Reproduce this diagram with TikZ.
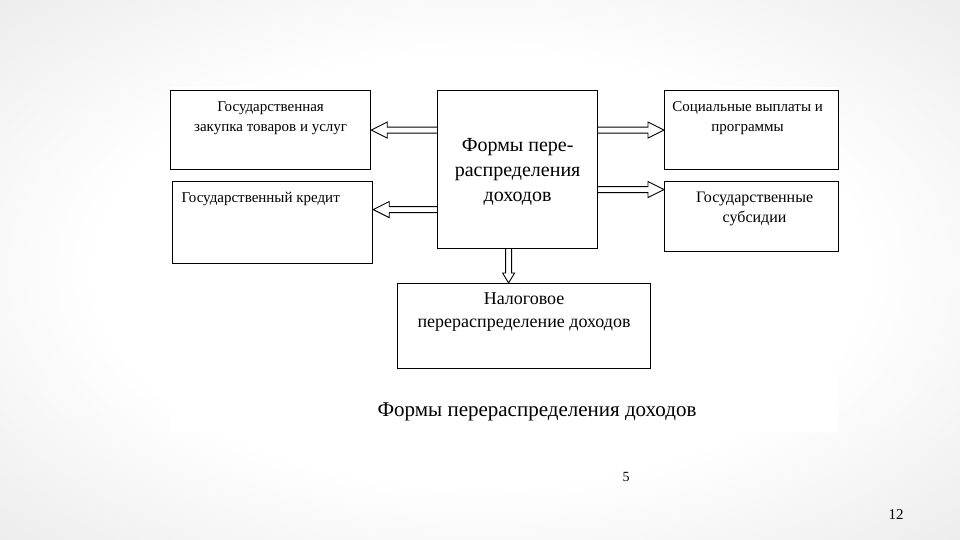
\documentclass[tikz,border=0pt]{standalone}
\usepackage{fontspec}
\setmainfont{Liberation Serif}
\usetikzlibrary{calc}
\newcommand{\lw}{1.2pt}
\newcommand{\shw}{3pt}
\pgfdeclareradialshading{slidebg}{\pgfpoint{0bp}{0bp}}{color(0bp)=(white); color(20bp)=(white); color(50bp)=(black!14); color(72bp)=(black!22)}

\begin{document}
\begin{tikzpicture}[x=1pt, y=-1pt,
    box/.style={draw, line width=\lw, rectangle, anchor=north west, inner sep=0pt},
    txt/.style={anchor=north, align=center, font=\fontsize{15}{20}\selectfont},
    blk/.style 2 args={line width=0.9pt, line join=miter, to path={
        ($(\tikztostart)!\shw!-90:(\tikztotarget)$)
        -- ($(\tikztotarget)!#2!(\tikztostart)!\shw!90:(\tikztostart)$)
        -- ($(\tikztotarget)!#2!(\tikztostart)!#1!90:(\tikztostart)$)
        -- (\tikztotarget)
        -- ($(\tikztotarget)!#2!(\tikztostart)!#1!-90:(\tikztostart)$)
        -- ($(\tikztotarget)!#2!(\tikztostart)!\shw!-90:(\tikztostart)$)
        -- ($(\tikztostart)!\shw!90:(\tikztotarget)$)}}]
    % Slide and picture area
    \shade[shading=slidebg] (0,0) rectangle (960,540);
    \fill[white] (170,87) rectangle (838,432);

    % Centre
    \node[box, minimum width=160, minimum height=158, label={[align=center, yshift=-2pt, font=\fontsize{20}{25}\selectfont]center:{Формы пере-\\распределения\\доходов}}] (cen) at (437,90) {};

    % Left column
    \node[box, minimum width=200, minimum height=79, label={[txt, yshift=-8pt]north:{Государственная\\закупка товаров и услуг}}] (zak) at (170,90) {};
    \node[box, minimum width=200, minimum height=82, label={[txt, anchor=north west, align=left, xshift=6pt, yshift=-8pt]north west:{Государственный кредит}}] (kred) at (172,181) {};

    % Right column
    \node[box, minimum width=174, minimum height=79, label={[txt, xshift=-4pt, yshift=-8pt]north:{Социальные выплаты и\\программы}}] (soc) at (664,90) {};
    \node[box, minimum width=174, minimum height=70, label={[txt, xshift=3pt, yshift=-7pt, font=\fontsize{16}{20}\selectfont]north:{Государственные\\субсидии}}] (sub) at (664,181) {};

    % Bottom
    \node[box, minimum width=253, minimum height=85, label={[txt, yshift=-6pt, font=\fontsize{18}{23}\selectfont]north:{Налоговое\\перераспределение доходов}}] (nal) at (397,283) {};

    % Arrows
    \draw[blk={8pt}{16pt}] (zak.east -| cen.west) to (zak.east);
    \draw[blk={8pt}{16pt}] ([yshift=-40pt]cen.west) to ([yshift=-40pt]cen.west -| kred.east);
    \draw[blk={8pt}{16pt}] (soc.west -| cen.east) to (soc.west);
    \draw[blk={8pt}{16pt}] ([yshift=-20pt]cen.east) to ([yshift=-20pt]cen.east -| sub.west);
    \draw[blk={6pt}{10pt}] ([xshift=-9pt]cen.south) to ([xshift=-9pt]cen.south |- nal.north);

    % Caption and page numbers
    \node[font=\fontsize{21}{25}\selectfont] (cap) at (537,412) {Формы перераспределения доходов};
    \node[font=\fontsize{14}{16}\selectfont] (pg) at (626,477) {5};
    \node[font=\fontsize{15}{17}\selectfont] (slno) at (896,515) {12};
\end{tikzpicture}
\end{document}
